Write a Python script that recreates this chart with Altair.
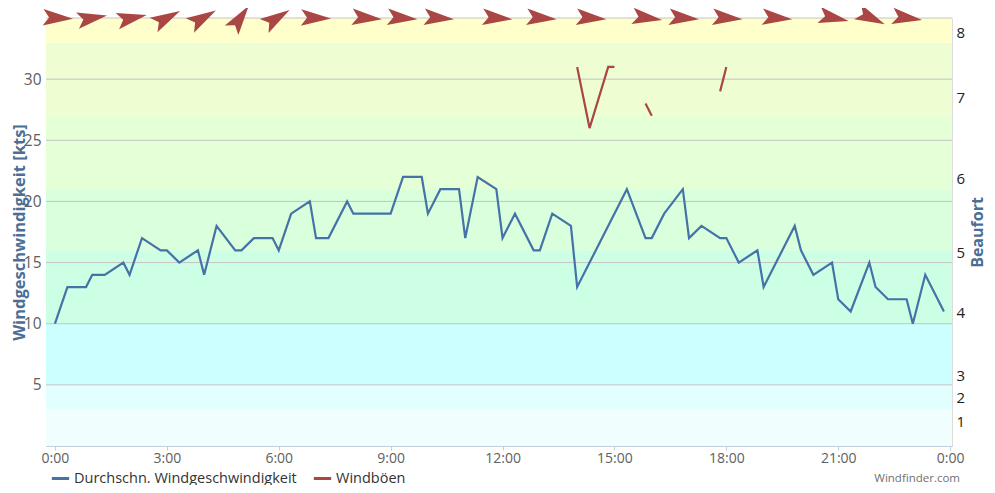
import altair as alt
import pandas as pd

# ---------------- data ----------------
avg_times = ["0:00", "0:20", "0:50", "1:00", "1:20", "1:50", "2:00", "2:20", "2:50", "3:00",
             "3:20", "3:50", "4:00", "4:20", "4:50", "5:00", "5:20", "5:50", "6:00", "6:20",
             "6:50", "7:00", "7:20", "7:50", "8:00", "8:20", "8:50", "9:00", "9:20", "9:50",
             "10:00", "10:20", "10:50", "11:00", "11:20", "11:50", "12:00", "12:20", "12:50", "13:00",
             "13:20", "13:50", "14:00", "15:20", "15:50", "16:00", "16:20", "16:50", "17:00", "17:20",
             "17:50", "18:00", "18:20", "18:50", "19:00", "19:50", "20:00", "20:20", "20:50", "21:00",
             "21:20", "21:50", "22:00", "22:20", "22:50", "23:00", "23:20", "23:50"]
avg_speed = [10, 13, 13, 14, 14, 15, 14, 17, 16, 16,
             15, 16, 14, 18, 16, 16, 17, 17, 16, 19,
             20, 17, 17, 20, 19, 19, 19, 19, 22, 22,
             19, 21, 21, 17, 22, 21, 17, 19, 16, 16,
             19, 18, 13, 21, 17, 17, 19, 21, 17, 18,
             17, 17, 15, 16, 13, 18, 16, 14, 15, 12,
             11, 15, 13, 12, 12, 10, 14, 11]

gust_times = ["14:00", "14:20", "14:50", "15:00", "15:50", "16:00", "17:50", "18:00"]
gust_speed = [31, 26, 31, 31, 28, 27, 29, 31]
gust_segment = [1, 1, 1, 1, 2, 2, 3, 3]

arrow_times = ["0:05", "1:00", "2:04", "3:00", "3:58", "4:58", "5:57", "7:00", "8:22", "9:19",
               "10:18", "11:52", "13:03", "14:23", "15:53", "16:52", "18:02", "19:22", "20:53",
               "21:53", "22:51"]
arrow_angles = [3, 350, 348, 332, 330, 305, 328, 2, 5, 5,
                5, 5, 5, 5, 8, 5, 5, 5, 12, 25, 8]

band_lower = [0, 3, 5, 10, 16, 21, 27, 33]
band_upper = [3, 5, 10, 16, 21, 27, 33, 35]
band_colors = ["#f0fffe", "#e2ffff", "#ccffff", "#ccffe4", "#d9ffdc", "#e5ffd6", "#effed2", "#ffffcc"]

grid_values = [5, 10, 15, 20, 25, 30, 35]
left_label_values = [5, 10, 15, 20, 25, 30]
bft_positions = [2, 4, 5.8, 10.9, 15.8, 21.9, 28.5, 33.8]
bft_labels = ["1", "2", "3", "4", "5", "6", "7", "8"]
x_tick_hours = [0, 3, 6, 9, 12, 15, 18, 21, 24]

series_names = ["Durchschn. Windgeschwindigkeit", "Windböen"]
series_colors = ["#4572a7", "#aa4643"]
credit = ["Windfinder.com"]

# ---------------- style ----------------
FONT = "Open Sans"
W, H = 906, 428
Y_DOMAIN = [0, 35]
X_DOMAIN = [-0.24, 24.05]
ARROW = "M 1 0 L -1 -0.55 L -0.6 0 L -1 0.55 Z"


def to_hours(t):
    h, m = t.split(":")
    return int(h) + int(m) / 60.0


lines_df = pd.concat([
    pd.DataFrame({"t": [to_hours(t) for t in avg_times], "v": avg_speed,
                  "series": series_names[0], "seg": 0}),
    pd.DataFrame({"t": [to_hours(t) for t in gust_times], "v": gust_speed,
                  "series": series_names[1], "seg": gust_segment}),
], ignore_index=True)

arrows_df = pd.DataFrame({"t": [to_hours(t) for t in arrow_times], "ang": arrow_angles})
bands_df = pd.DataFrame({"lo": band_lower, "hi": band_upper, "c": band_colors})
grid_df = pd.DataFrame({"g": grid_values})
bft_df = pd.DataFrame({"p": bft_positions, "lab": bft_labels})
credit_df = pd.DataFrame({"txt": credit})

bft_expr = "''"
for p, lab in reversed(list(zip(bft_positions, bft_labels))):
    bft_expr = f"abs(datum.value - {p}) < 0.01 ? '{lab}' : ({bft_expr})"

x_scale = alt.Scale(domain=X_DOMAIN, nice=False, zero=False)

bands = alt.Chart(bands_df).mark_rect().encode(
    y=alt.Y("lo:Q", scale=alt.Scale(domain=Y_DOMAIN, nice=False), axis=None),
    y2="hi:Q",
    color=alt.Color("c:N", scale=None),
)

grid = alt.Chart(grid_df).mark_rule(color="#c4c4c4", strokeWidth=1).encode(
    y=alt.Y("g:Q", scale=alt.Scale(domain=Y_DOMAIN, nice=False), axis=None),
)

lines = alt.Chart(lines_df).mark_line(strokeWidth=2.2).encode(
    x=alt.X("t:Q", scale=x_scale, title=None,
            axis=alt.Axis(values=x_tick_hours, labelExpr="(datum.value % 24) + ':00'",
                          grid=False, domainColor="#c0d0e0", tickColor="#c0d0e0",
                          tickSize=4, labelPadding=1, labelFlush=False,
                          labelColor="#606060", labelFontSize=14, labelFont=FONT)),
    y=alt.Y("v:Q", scale=alt.Scale(domain=Y_DOMAIN, nice=False),
            axis=alt.Axis(values=left_label_values, grid=False, domain=False, ticks=False,
                          labelColor="#606060", labelFontSize=15.5, labelFont=FONT, labelPadding=5,
                          title="Windgeschwindigkeit [kts]", titleFont=FONT, titleFontSize=16.5,
                          titleFontWeight="bold", titleColor="#4a6e96",
                          titleAngle=270, titleX=-27, titleY=H / 2,
                          titleAlign="center", titleBaseline="middle")),
    color=alt.Color("series:N", scale=alt.Scale(domain=series_names, range=series_colors),
                    legend=alt.Legend(orient="none", legendX=4, legendY=450, direction="horizontal",
                                      title=None, symbolType="stroke", symbolStrokeWidth=3,
                                      symbolSize=300, labelFont=FONT, labelFontSize=14.5,
                                      labelColor="#333333", columnPadding=10, labelOffset=3,
                                      labelLimit=0, padding=0)),
    detail="seg:N",
    order="t:Q",
)

arrows = alt.Chart(arrows_df).mark_point(shape=ARROW, filled=True, opacity=1,
                                         color="#aa4643", strokeWidth=0).encode(
    x=alt.X("t:Q", scale=x_scale, title=None),
    y=alt.value(0),
    angle=alt.Angle("ang:Q", scale=None),
    size=alt.value(900),
)

right_axis = alt.Chart(bft_df).mark_point(opacity=0).encode(
    y=alt.Y("p:Q", scale=alt.Scale(domain=Y_DOMAIN, nice=False),
            axis=alt.Axis(orient="right", values=bft_positions, labelExpr=bft_expr,
                          grid=False, domain=False, ticks=False, labelPadding=4,
                          labelColor="#222222", labelFontSize=15, labelFont=FONT,
                          title="Beaufort", titleFont=FONT, titleFontSize=16,
                          titleFontWeight="bold", titleColor="#4a6e96",
                          titleAngle=270, titleX=25, titleY=H / 2,
                          titleAlign="center", titleBaseline="middle")),
)

credit_mark = alt.Chart(credit_df).mark_text(align="right", baseline="bottom", fontSize=11.5,
                                             font=FONT, color="#707070").encode(
    text="txt:N",
    x=alt.value(W + 8),
    y=alt.value(H + 38),
)

chart = alt.layer(bands, grid, lines, arrows, right_axis, credit_mark).resolve_scale(
    y="independent"
).properties(
    width=W, height=H,
    autosize=alt.AutoSizeParams(type="none"),
    padding={"left": 38, "top": 10, "right": 35, "bottom": 39},
).configure_view(stroke=None).configure(font=FONT)

chart.save("out.html", embed_options={"renderer": "svg", "actions": False})
